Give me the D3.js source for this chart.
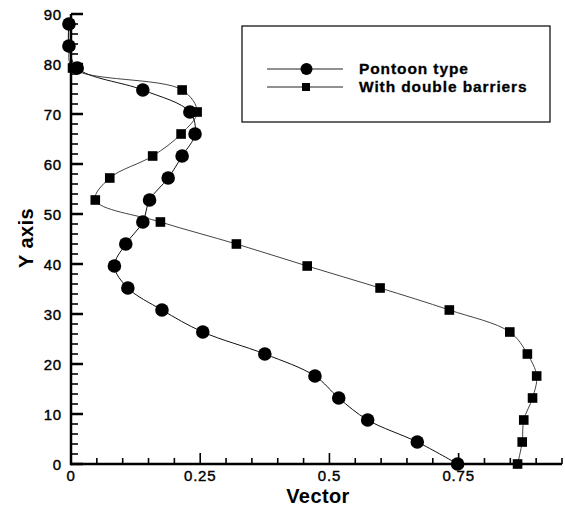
<!DOCTYPE html>
<html><head><meta charset="utf-8">
<script src="https://cdn.jsdelivr.net/npm/d3@7"></script>
<style>body{margin:0;background:#fff}svg{display:block}</style>
</head><body><div id="chart"></div>
<script>
// Data (y positions shared by both series)
const yLevels = [0, 4.4, 8.8, 13.2, 17.6, 22.0, 26.4, 30.8, 35.2, 39.6, 44.0, 48.4, 52.8, 57.2, 61.6, 66.0, 70.4, 74.8, 79.2, 83.6, 88.0];
const pontoonX = [0.748, 0.670, 0.574, 0.518, 0.472, 0.375, 0.255, 0.176, 0.110, 0.084, 0.106, 0.139, 0.152, 0.188, 0.215, 0.240, 0.230, 0.139, 0.012, -0.004, -0.004];
const barriersX = [0.864, 0.873, 0.876, 0.893, 0.901, 0.883, 0.849, 0.732, 0.598, 0.457, 0.320, 0.173, 0.047, 0.075, 0.158, 0.213, 0.244, 0.215, 0.003, -0.004, -0.004];
const seriesNames = ["Pontoon type", "With double barriers"];
const xTickLabels = [0, 0.25, 0.5, 0.75];
const yTickLabels = [0, 10, 20, 30, 40, 50, 60, 70, 80, 90];
const xTitle = "Vector", yTitle = "Y axis";

const W = 565, H = 508;
const svg = d3.select("#chart").append("svg").attr("width", W).attr("height", H);
const x = d3.scaleLinear().domain([0, 0.95]).range([71, 562]);
const y = d3.scaleLinear().domain([0, 90]).range([464, 14]);
const font = "'Liberation Sans', Arial, sans-serif";

const pontoon = yLevels.map((v, i) => ({x: pontoonX[i], y: v}));
const barriers = yLevels.map((v, i) => ({x: barriersX[i], y: v}));

const line = d3.line().x(d => x(d.x)).y(d => y(d.y)).curve(d3.curveCatmullRom.alpha(0.5));

// lines
svg.append("path").datum(barriers).attr("d", line).attr("fill", "none").attr("stroke", "#444").attr("stroke-width", 1);
svg.append("path").datum(pontoon).attr("d", line).attr("fill", "none").attr("stroke", "#111").attr("stroke-width", 1);

// markers
const sq = 9.6;
svg.append("g").selectAll("rect").data(barriers).join("rect")
  .attr("x", d => x(d.x) - sq/2).attr("y", d => y(d.y) - sq/2)
  .attr("width", sq).attr("height", sq).attr("fill", "#000");
svg.append("g").selectAll("circle").data(pontoon).join("circle")
  .attr("cx", d => x(d.x)).attr("cy", d => y(d.y)).attr("r", 6.8).attr("fill", "#000");

// axes
const xMinor = d3.range(0, 0.951, 0.05);
const yMinor = d3.range(0, 90.1, 2);
const ax = svg.append("g");
ax.append("line").attr("x1", x(0)).attr("x2", x(0.95)).attr("y1", y(0)).attr("y2", y(0)).attr("stroke", "#000").attr("stroke-width", 2.5);
ax.append("line").attr("x1", x(0)).attr("x2", x(0)).attr("y1", y(0)+1.2).attr("y2", y(90)).attr("stroke", "#000").attr("stroke-width", 2.5);
ax.selectAll(".xt").data(xMinor).join("line")
  .attr("x1", d => x(d)).attr("x2", d => x(d))
  .attr("y1", y(0)).attr("y2", d => y(0) - (Math.abs(d/0.25 - Math.round(d/0.25)) < 1e-6 ? 11 : 6))
  .attr("stroke", "#000").attr("stroke-width", 1.6);
ax.selectAll(".yt").data(yMinor).join("line")
  .attr("y1", d => y(d)).attr("y2", d => y(d))
  .attr("x1", x(0)).attr("x2", d => x(0) + (d % 10 === 0 ? 12 : 7))
  .attr("stroke", "#000").attr("stroke-width", d => d % 10 === 0 ? 2.5 : 1.6);

ax.selectAll(".xl").data(xTickLabels).join("text")
  .attr("x", d => x(d)).attr("y", y(0) + 17).attr("text-anchor", "middle")
  .attr("font-family", font).attr("font-size", 15).attr("letter-spacing", 0.8)
  .attr("stroke", "#000").attr("stroke-width", 0.4).text(d => d);
ax.selectAll(".yl").data(yTickLabels).join("text")
  .attr("x", 62).attr("y", d => y(d) + 5.5).attr("text-anchor", "end")
  .attr("font-family", font).attr("font-size", 15).attr("letter-spacing", 0.8)
  .attr("stroke", "#000").attr("stroke-width", 0.4).text(d => d);

svg.append("text").attr("x", 318).attr("y", 503).attr("text-anchor", "middle")
  .attr("font-family", font).attr("font-weight", "bold").attr("font-size", 20).attr("letter-spacing", 0.4).text(xTitle);
svg.append("text").attr("transform", "translate(33,238) rotate(-90)").attr("text-anchor", "middle")
  .attr("font-family", font).attr("font-weight", "bold").attr("font-size", 20).attr("letter-spacing", 0.4).text(yTitle);

// legend
const lg = svg.append("g");
lg.append("rect").attr("x", 242).attr("y", 26).attr("width", 308).attr("height", 96)
  .attr("fill", "none").attr("stroke", "#000").attr("stroke-width", 1.2);
const rows = [69, 87];
seriesNames.forEach((n, i) => {
  lg.append("line").attr("x1", 267).attr("x2", 343).attr("y1", rows[i]).attr("y2", rows[i]).attr("stroke", "#222").attr("stroke-width", 1);
  if (i === 0) lg.append("circle").attr("cx", 306.5).attr("cy", rows[i]).attr("r", 6).attr("fill", "#000");
  else lg.append("rect").attr("x", 302).attr("y", rows[i]-4).attr("width", 8).attr("height", 8).attr("fill", "#000");
  lg.append("text").attr("x", 359).attr("y", rows[i] + 5).attr("font-family", font).attr("font-weight", "bold")
    .attr("font-size", 15.5).attr("letter-spacing", 0.9).attr("stroke", "#000").attr("stroke-width", 0.3).text(n);
});
</script></body></html>
